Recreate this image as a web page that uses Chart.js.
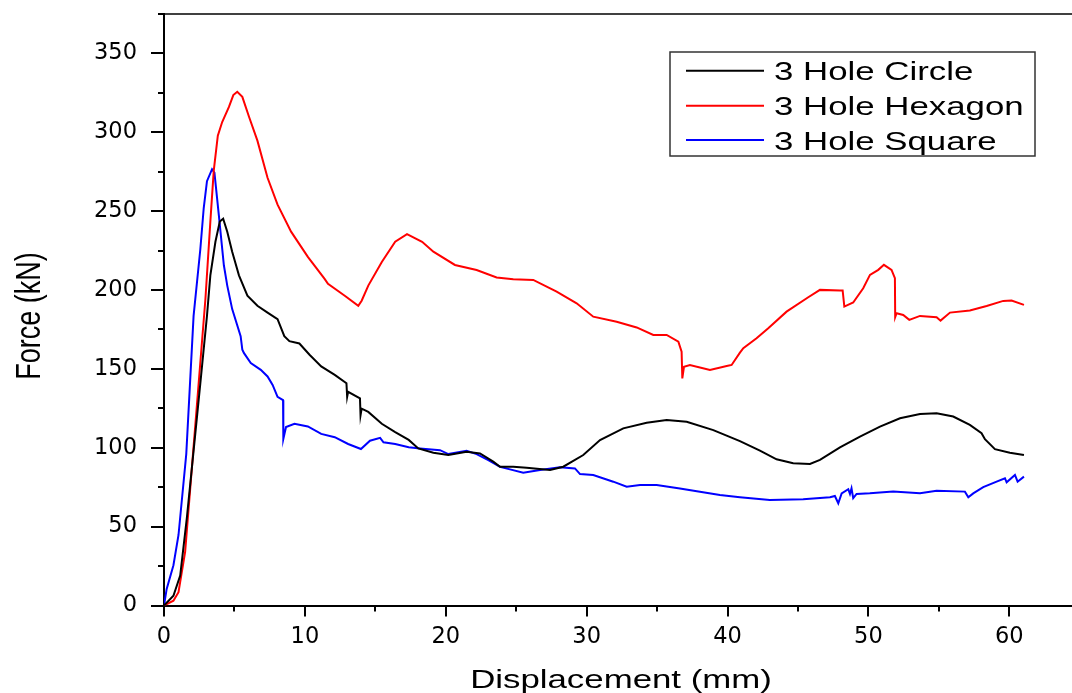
<!DOCTYPE html>
<html>
<head>
<meta charset="utf-8">
<script src="https://cdn.jsdelivr.net/npm/chart.js@4.4.1/dist/chart.umd.min.js"></script>
<style>
  html, body { margin: 0; padding: 0; background: #fff; }
  #wrap { width: 1072px; height: 693px; }
</style>
</head>
<body>
<div id="wrap"><canvas id="c" width="1072" height="693"></canvas></div>
<script>
// ---- data (displacement mm, force kN) ----
const seriesLabels = ['3 Hole Circle', '3 Hole Hexagon', '3 Hole Square'];
const seriesColors = ['#000000', '#ff0000', '#0000ff'];

const circle = [[0,0],[0.67,6.2],[1.15,19],[1.62,55.4],[2.1,98],[2.58,140.9],[3.05,183.6],[3.29,209.3],[3.65,230.6],[3.96,243.4],[4.2,245.2],[4.49,237],[4.84,224.2],[5.32,209.3],[5.92,196.4],[6.63,190],[7.35,185.7],[8.06,181.5],[8.54,170.8],[8.9,167.6],[9.61,166.1],[10.33,159],[11.16,151.6],[12.12,146.2],[12.95,140.9],[13.0,132.3],[13.07,135.5],[13.91,131.3],[13.95,120.6],[14.03,124.8],[14.5,122.7],[15.46,115.2],[16.41,109.9],[17.37,105],[18.05,99.6],[19.12,96.9],[20.18,95.4],[21.48,97.5],[22.43,96.4],[23.37,91.2],[23.85,88],[24.79,88],[25.74,87.3],[27.4,85.9],[28.34,88],[29.76,95.4],[30.95,104.9],[32.6,112.3],[34.26,115.9],[35.68,117.6],[37.1,116.5],[38.99,111.2],[40.88,104.2],[42.3,98.2],[43.48,92.7],[44.66,90.2],[45.85,89.7],[46.56,92.3],[47.98,100.3],[49.4,107.1],[50.82,113.4],[52.24,118.7],[53.66,121.4],[54.84,121.9],[56.02,119.8],[57.2,114.5],[58.03,109.2],[58.27,105.4],[58.98,99.1],[60.04,96.9],[61.04,95.4]];

const hexagon = [[0,0],[0.67,3],[1.03,8.4],[1.5,34],[1.98,87.4],[2.46,140.9],[2.94,194.3],[3.29,243.4],[3.53,275.5],[3.82,297.9],[4.13,306.5],[4.61,316.1],[4.92,323.6],[5.2,325.7],[5.56,322.5],[6.04,309.7],[6.63,294.7],[7.35,271.2],[8.06,254.1],[9.02,237],[10.21,221],[11.4,207.1],[11.64,203.9],[12.83,196.4],[13.79,190],[14.03,193.2],[14.5,202.8],[15.46,217.8],[16.41,230.6],[17.25,235.5],[18.32,230.6],[19.12,224.3],[20.65,215.9],[22.19,212.7],[23.61,208],[24.79,206.8],[26.21,206.4],[27.87,199],[29.29,191.6],[30.47,183.1],[32.13,179.9],[33.55,176.3],[34.73,171.5],[35.68,171.5],[36.51,167.3],[36.74,160.9],[36.79,144],[36.91,151.4],[37.33,152.5],[38.75,149.3],[39.94,151.8],[40.29,152.5],[40.88,160.3],[41.12,163.1],[42.06,169.4],[42.89,175.8],[44.19,186.3],[45.73,195.4],[46.56,200.1],[47.98,199.7],[48.17,199.7],[48.29,189.5],[48.92,192.1],[49.63,201.1],[50.11,209.6],[50.7,212.8],[51.1,216],[51.64,212.8],[51.88,207.5],[51.9,182.8],[52.0,185.3],[52.47,184.2],[52.9,181.1],[53.66,183.6],[54.84,182.8],[55.12,180.6],[55.79,185.7],[57.2,187],[58.39,189.9],[59.57,193.1],[60.16,193.3],[61.04,190.6]];

const square = [[0,0],[0.19,10.5],[0.67,25.5],[1.03,44.7],[1.58,96],[2.1,183.6],[2.58,226],[2.82,252],[3.05,269],[3.41,276.6],[3.58,274.4],[3.89,247.7],[4.25,215.7],[4.49,202.8],[4.84,187.9],[5.44,170.8],[5.56,162.2],[5.68,160],[6.16,153.7],[6.87,149.4],[7.35,145.2],[7.71,139.8],[8.06,132.3],[8.45,130.2],[8.47,105.6],[8.66,113.1],[9.26,115.2],[10.21,113.5],[11.16,108.8],[12.12,106.7],[13.07,102.4],[13.98,99.2],[14.62,104.5],[15.34,106.3],[15.58,103.5],[16.41,102.4],[17.37,100.3],[18.17,99.6],[19.59,98.5],[20.18,96],[21.48,98.1],[22.19,96],[23.02,92.2],[23.85,88],[24.56,86.3],[25.5,84.2],[26.69,85.9],[28.1,87.6],[29.17,86.9],[29.53,83.3],[30.47,82.7],[31.89,78.5],[32.84,75.3],[33.79,76.4],[34.97,76.4],[36.62,74.2],[38.04,72.1],[39.46,70],[40.88,68.6],[43.0,66.9],[45.37,67.3],[47.27,68.6],[47.62,69.4],[47.86,64.8],[48.1,71.1],[48.57,73.7],[48.69,70.7],[48.8,74.3],[48.92,68],[49.16,70.7],[50.1,71.1],[51.76,72.2],[53.66,71.1],[54.84,72.8],[56.85,72.2],[57.09,68.6],[57.44,71.1],[58.15,75],[59.1,78.5],[59.69,80.7],[59.81,78.1],[60.4,82.8],[60.59,78.5],[61.04,81.7]];

const xTicks = [0, 10, 20, 30, 40, 50, 60];
const yTicks = [0, 50, 100, 150, 200, 250, 300, 350];
const xMinorStep = 5;
const yMinorStep = 25;
const xTitle = 'Displacement (mm)';
const yTitle = 'Force (kN)';

// ---- chart ----
const toPts = arr => arr.map(p => ({ x: p[0], y: p[1] }));
const seriesData = [circle, hexagon, square];

const TEXT_FONT = '"Liberation Sans", Arial, sans-serif';
const STRETCH = 1.36;

const decor = {
  id: 'decor',
  afterDraw(chart) {
    const { ctx, chartArea: a, scales } = chart;
    const xs = scales.x, ys = scales.y;
    ctx.save();
    ctx.strokeStyle = '#000';
    // top frame
    ctx.lineWidth = 1.5;
    ctx.beginPath(); ctx.moveTo(a.left - 1, a.top); ctx.lineTo(a.right, a.top); ctx.stroke();
    // tick marks (major + minor)
    ctx.lineWidth = 2;
    ctx.beginPath();
    for (let v = 0; v <= xs.max + 1e-9; v += xMinorStep) {
      const px = Math.round(xs.getPixelForValue(v));
      const len = xTicks.includes(v) ? 11 : 6;
      ctx.moveTo(px, a.bottom); ctx.lineTo(px, a.bottom + len);
    }
    for (let v = 0; v <= ys.max + 1e-9; v += yMinorStep) {
      const py = Math.round(ys.getPixelForValue(v));
      const len = yTicks.includes(v) ? 13 : 6;
      ctx.moveTo(a.left, py); ctx.lineTo(a.left - len, py);
    }
    ctx.stroke();

    ctx.fillStyle = '#000';
    // x title
    ctx.save();
    ctx.font = '25.6px ' + TEXT_FONT;
    ctx.textAlign = 'center';
    ctx.textBaseline = 'alphabetic';
    ctx.translate(621, 688);
    ctx.scale(STRETCH, 1);
    ctx.fillText(xTitle, 0, 0);
    ctx.restore();
    // y title
    ctx.save();
    ctx.font = '27px ' + TEXT_FONT;
    ctx.textAlign = 'center';
    ctx.textBaseline = 'alphabetic';
    ctx.translate(39.5, 316);
    ctx.rotate(-Math.PI / 2);
    ctx.scale(1, 1.28);
    ctx.fillText(yTitle, 0, 0);
    ctx.restore();

    // legend
    const box = { l: 670, t: 52, w: 365, h: 104 };
    ctx.lineWidth = 1.5;
    ctx.strokeStyle = '#333';
    ctx.strokeRect(box.l, box.t, box.w, box.h);
    const rows = [70.7, 105.7, 140];
    chart.data.datasets.forEach((ds, i) => {
      const yy = rows[i];
      ctx.strokeStyle = ds.borderColor;
      ctx.lineWidth = 2;
      ctx.beginPath(); ctx.moveTo(686, yy); ctx.lineTo(764, yy); ctx.stroke();
      ctx.save();
      ctx.font = '25.6px ' + TEXT_FONT;
      ctx.textAlign = 'left';
      ctx.textBaseline = 'alphabetic';
      ctx.translate(774, yy + 9.5);
      ctx.scale(STRETCH, 1);
      ctx.fillStyle = '#000';
      ctx.fillText(ds.label, 0, 0);
      ctx.restore();
    });
    ctx.restore();
  }
};

new Chart(document.getElementById('c'), {
  type: 'line',
  data: {
    datasets: seriesData.map((d, i) => ({
      label: seriesLabels[i],
      data: toPts(d),
      borderColor: seriesColors[i],
      backgroundColor: seriesColors[i],
      borderWidth: 2,
      pointRadius: 0,
      tension: 0,
      fill: false
    }))
  },
  options: {
    responsive: false,
    animation: false,
    devicePixelRatio: 1,
    layout: { padding: { top: 14, right: 0, bottom: 0, left: 0 } },
    plugins: { legend: { display: false }, tooltip: { enabled: false } },
    scales: {
      x: {
        type: 'linear',
        min: 0,
        max: 64.45,
        afterBuildTicks: axis => { axis.ticks = xTicks.map(v => ({ value: v })); },
        afterFit: s => { s.height = 87.5; s.paddingLeft = 0; s.paddingRight = 0; },
        grid: { display: true, drawOnChartArea: false, drawTicks: false },
        border: { display: true, color: '#000', width: 2 },
        ticks: {
          color: '#000',
          padding: 18,
          maxRotation: 0,
          autoSkip: false,
          font: { family: '"DejaVu Sans"', size: 22.5 }
        },
        title: { display: false }
      },
      y: {
        type: 'linear',
        min: 0,
        max: 375,
        afterBuildTicks: axis => { axis.ticks = yTicks.map(v => ({ value: v })); },
        afterFit: s => { s.width = 164; s.paddingTop = 0; s.paddingBottom = 0; },
        grid: { display: true, drawOnChartArea: false, drawTicks: false },
        border: { display: true, color: '#000', width: 2 },
        ticks: {
          color: '#000',
          padding: 27,
          autoSkip: false,
          font: { family: '"DejaVu Sans"', size: 22.5 }
        },
        title: { display: false }
      }
    }
  },
  plugins: [decor]
});
</script>
</body>
</html>
